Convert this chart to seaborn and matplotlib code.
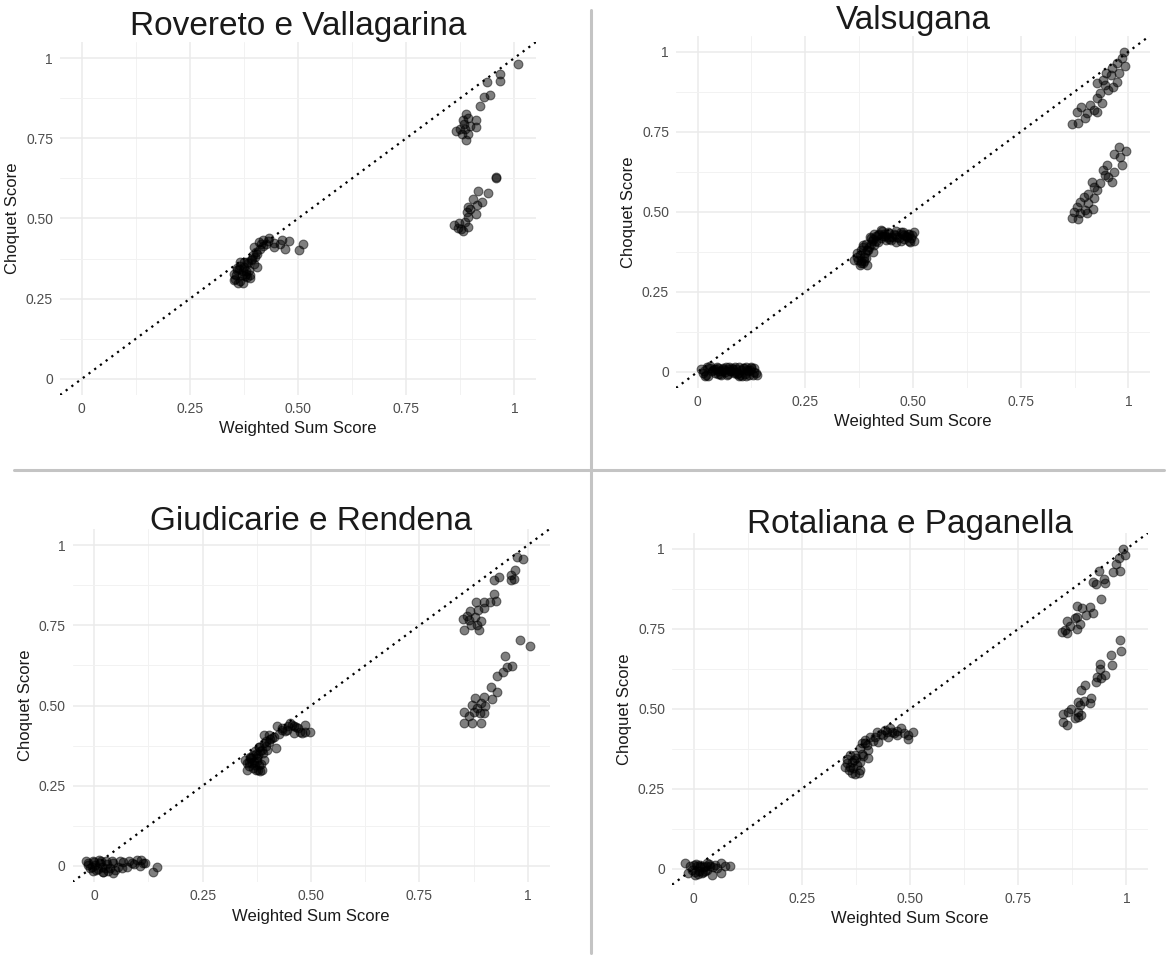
import pandas as pd
import seaborn as sns
import matplotlib.pyplot as plt
from matplotlib.lines import Line2D
from matplotlib.ticker import MultipleLocator

sns.set_theme(style='white')
plt.rcParams['font.family'] = ['Liberation Sans', 'DejaVu Sans']

titles = ['Rovereto e Vallagarina', 'Valsugana', 'Giudicarie e Rendena', 'Rotaliana e Paganella']
tick_vals = [0, 0.25, 0.5, 0.75, 1]
tick_labels = ['0', '0.25', '0.50', '0.75', '1']

# Rovereto e Vallagarina
rov_x = [1.008, 0.967, 0.967, 0.937, 0.943, 0.929, 0.921,
         0.888, 0.894, 0.881, 0.911, 0.898, 0.911, 0.875, 0.865, 0.887, 0.879, 0.894, 0.888, 0.883,
         0.957, 0.957, 0.917, 0.939, 0.905, 0.925, 0.894, 0.913, 0.890, 0.911,
         0.892, 0.887, 0.860, 0.871, 0.876, 0.882, 0.894, 0.870, 0.898,
         0.512, 0.502, 0.479, 0.463, 0.470, 0.458, 0.444, 0.433, 0.420, 0.425,
         0.410, 0.413, 0.398, 0.406, 0.394, 0.383, 0.367, 0.398, 0.406, 0.375,
         0.360, 0.387, 0.352, 0.371, 0.390, 0.352, 0.367, 0.379, 0.363, 0.383,
         0.355, 0.372, 0.392, 0.402, 0.415, 0.430, 0.445, 0.360, 0.378, 0.395,
         0.357, 0.365, 0.372, 0.380, 0.385, 0.362, 0.375, 0.388, 0.400, 0.418]
rov_y = [0.982, 0.951, 0.928, 0.925, 0.886, 0.879, 0.850,
         0.827, 0.813, 0.806, 0.806, 0.787, 0.785, 0.780, 0.773, 0.780, 0.764, 0.762, 0.744, 0.795,
         0.627, 0.630, 0.586, 0.579, 0.561, 0.551, 0.536, 0.541, 0.520, 0.515,
         0.505, 0.489, 0.479, 0.486, 0.468, 0.461, 0.474, 0.471, 0.531,
         0.421, 0.401, 0.430, 0.434, 0.406, 0.422, 0.411, 0.439, 0.434, 0.422,
         0.427, 0.406, 0.411, 0.390, 0.375, 0.364, 0.364, 0.359, 0.349, 0.349,
         0.339, 0.339, 0.328, 0.323, 0.313, 0.307, 0.305, 0.328, 0.344, 0.318,
         0.310, 0.335, 0.370, 0.395, 0.420, 0.430, 0.425, 0.345, 0.320, 0.385,
         0.325, 0.352, 0.300, 0.335, 0.360, 0.300, 0.365, 0.325, 0.380, 0.415]

# Valsugana
val_x = [0.990, 0.985, 0.973, 0.992, 0.961, 0.948, 0.977, 0.959, 0.942, 0.927,
         0.973, 0.953, 0.934, 0.927, 0.938, 0.911, 0.919, 0.890, 0.904, 0.880,
         0.900, 0.884, 0.870, 0.927, 0.946, 0.965,
         0.977, 0.995, 0.981, 0.966, 0.985, 0.950, 0.966, 0.946, 0.962, 0.934,
         0.915, 0.926, 0.907, 0.896, 0.920, 0.887, 0.907, 0.880, 0.899, 0.918,
         0.873, 0.887, 0.869, 0.884, 0.903, 0.953, 0.942, 0.919,
         0.502, 0.502, 0.487, 0.471, 0.456, 0.441, 0.425, 0.410, 0.402, 0.471,
         0.448, 0.425, 0.390, 0.379, 0.394, 0.371, 0.386, 0.363, 0.379, 0.394,
         0.410, 0.406, 0.441, 0.464, 0.491, 0.418, 0.433, 0.479, 0.495,
         0.370, 0.385, 0.400, 0.415, 0.430, 0.445, 0.460, 0.475, 0.490, 0.380,
         0.372, 0.378, 0.383, 0.388, 0.392, 0.397, 0.403, 0.408, 0.413, 0.420,
         0.428, 0.436, 0.444, 0.452, 0.460, 0.468, 0.476, 0.484, 0.492, 0.498,
         0.376, 0.386, 0.396, 0.405, 0.418, 0.438, 0.458, 0.478, 0.488, 0.385,
         0.008, 0.015, 0.020, 0.028, 0.035, 0.040, 0.045, 0.050, 0.055, 0.060,
         0.065, 0.070, 0.075, 0.080, 0.085, 0.090, 0.095, 0.100, 0.105, 0.110,
         0.115, 0.120, 0.125, 0.130, 0.135, 0.012, 0.025, 0.038, 0.048, 0.058,
         0.068, 0.078, 0.088, 0.098, 0.108, 0.118, 0.128, 0.030, 0.062, 0.092,
         0.124,
         0.018, 0.033, 0.043, 0.053, 0.063, 0.073, 0.083, 0.093, 0.103, 0.113,
         0.122, 0.132, 0.022, 0.047, 0.072, 0.097, 0.112, 0.057, 0.087, 0.138]
val_y = [1.000, 0.979, 0.964, 0.955, 0.948, 0.934, 0.932, 0.927, 0.911, 0.901,
         0.906, 0.880, 0.870, 0.854, 0.839, 0.833, 0.818, 0.826, 0.807, 0.813,
         0.792, 0.776, 0.774, 0.813, 0.896, 0.891,
         0.701, 0.691, 0.672, 0.682, 0.646, 0.646, 0.625, 0.615, 0.594, 0.589,
         0.594, 0.568, 0.557, 0.547, 0.542, 0.531, 0.526, 0.516, 0.505, 0.510,
         0.500, 0.495, 0.482, 0.479, 0.497, 0.610, 0.630, 0.578,
         0.438, 0.409, 0.422, 0.438, 0.432, 0.438, 0.443, 0.432, 0.417, 0.409,
         0.411, 0.417, 0.401, 0.380, 0.380, 0.370, 0.359, 0.349, 0.339, 0.333,
         0.396, 0.375, 0.422, 0.422, 0.432, 0.427, 0.432, 0.427, 0.417,
         0.360, 0.390, 0.420, 0.410, 0.425, 0.415, 0.405, 0.430, 0.410, 0.345,
         0.350, 0.365, 0.340, 0.372, 0.355, 0.390, 0.400, 0.415, 0.425, 0.430,
         0.440, 0.425, 0.435, 0.420, 0.440, 0.418, 0.438, 0.425, 0.405, 0.428,
         0.333, 0.345, 0.382, 0.410, 0.405, 0.412, 0.428, 0.415, 0.432, 0.395,
         0.010, 0.003, -0.008, 0.012, 0.006, -0.004, 0.015, 0.002, -0.010, 0.008,
         0.014, -0.006, 0.004, 0.011, -0.003, 0.009, -0.012, 0.005, 0.013, -0.005,
         0.007, -0.009, 0.016, 0.001, -0.004, -0.002, -0.012, 0.009, -0.007, 0.013,
         -0.011, 0.002, 0.015, -0.008, 0.011, 0.003, -0.010, 0.018, 0.007, -0.006,
         0.012,
         -0.012, 0.004, 0.010, -0.006, 0.001, 0.016, 0.008, -0.002, -0.013, 0.014,
         0.005, 0.012, 0.016, 0.013, 0.010, 0.015, -0.012, 0.004, 0.001, -0.008]

# Giudicarie e Rendena
giu_x = [0.975, 0.989, 0.970, 0.962, 0.968, 0.960, 0.933, 0.923, 0.921, 0.926,
         0.913, 0.898, 0.881, 0.898, 0.886, 0.867, 0.879, 0.860, 0.851, 0.891,
         0.869, 0.883, 0.852, 0.887, 0.864,
         0.983, 1.005, 0.947, 0.964, 0.952, 0.943, 0.929, 0.915, 0.928, 0.898,
         0.917, 0.879, 0.891, 0.872, 0.902, 0.852, 0.875, 0.889, 0.864, 0.898,
         0.852, 0.872, 0.892, 0.883,
         0.487, 0.498, 0.485, 0.475, 0.460, 0.448, 0.433, 0.421, 0.414, 0.402,
         0.391, 0.391, 0.379, 0.371, 0.383, 0.360, 0.375, 0.348, 0.363, 0.381,
         0.352, 0.383, 0.367, 0.398, 0.419, 0.460, 0.452, 0.352, 0.391,
         0.356, 0.368, 0.378, 0.388, 0.395, 0.405, 0.440, 0.470, 0.360, 0.372,
         0.362, 0.370, 0.377, 0.385, 0.390, 0.380, 0.372, 0.365, 0.395, 0.402,
         0.410, 0.425, 0.432, 0.445, 0.455, 0.465, 0.478, 0.357, 0.386, 0.376,
         -0.018, -0.002, 0.013, 0.028, -0.010, 0.005, 0.021, 0.036, 0.044, 0.055,
         0.067, 0.075, 0.086, 0.098, 0.109, 0.117, 0.105, 0.136, 0.144, -0.014,
         0.002, 0.018, 0.032, 0.048, 0.063, 0.044,
         -0.015, -0.006, 0.008, 0.016, 0.024, 0.010, -0.002, 0.030, 0.040, 0.060,
         0.080, 0.092, 0.112, 0.000, 0.020]
giu_y = [0.963, 0.957, 0.921, 0.907, 0.894, 0.890, 0.902, 0.890, 0.847, 0.827,
         0.824, 0.824, 0.824, 0.804, 0.798, 0.793, 0.775, 0.778, 0.769, 0.762,
         0.752, 0.752, 0.734, 0.736, 0.767,
         0.705, 0.684, 0.653, 0.622, 0.620, 0.606, 0.593, 0.557, 0.542, 0.528,
         0.520, 0.523, 0.507, 0.502, 0.497, 0.481, 0.481, 0.476, 0.466, 0.476,
         0.445, 0.447, 0.447, 0.492,
         0.440, 0.416, 0.416, 0.419, 0.435, 0.435, 0.424, 0.435, 0.401, 0.409,
         0.409, 0.383, 0.372, 0.357, 0.357, 0.341, 0.336, 0.331, 0.320, 0.315,
         0.299, 0.297, 0.305, 0.362, 0.367, 0.414, 0.445, 0.320, 0.331,
         0.310, 0.325, 0.345, 0.360, 0.390, 0.395, 0.420, 0.430, 0.335, 0.300,
         0.335, 0.315, 0.300, 0.318, 0.352, 0.370, 0.350, 0.345, 0.375, 0.385,
         0.398, 0.410, 0.430, 0.425, 0.440, 0.432, 0.415, 0.325, 0.300, 0.328,
         0.016, 0.016, 0.009, 0.014, -0.007, -0.012, -0.018, -0.007, 0.009, -0.002,
         0.012, -0.002, 0.009, 0.019, 0.019, 0.010, 0.000, -0.018, -0.002, 0.004,
         0.004, -0.002, -0.015, -0.012, -0.007, -0.021,
         0.008, -0.004, -0.010, 0.015, -0.005, 0.018, -0.015, 0.006, 0.016, 0.014,
         0.016, 0.006, 0.008, 0.012, -0.020]

# Rotaliana e Paganella
rot_x = [0.992, 0.996, 0.983, 0.977, 0.985, 0.968, 0.936, 0.948, 0.950, 0.923,
         0.929, 0.942, 0.886, 0.898, 0.917, 0.906, 0.923, 0.886, 0.881, 0.862,
         0.869, 0.892, 0.885, 0.852, 0.862, 0.858,
         0.986, 0.987, 0.965, 0.967, 0.938, 0.938, 0.931, 0.942, 0.951, 0.929,
         0.904, 0.896, 0.919, 0.917, 0.902, 0.892, 0.888, 0.873, 0.865, 0.888,
         0.854, 0.888, 0.881, 0.854, 0.863, 0.894,
         0.508, 0.496, 0.496, 0.478, 0.469, 0.454, 0.446, 0.438, 0.423, 0.419,
         0.408, 0.396, 0.400, 0.388, 0.385, 0.404, 0.373, 0.362, 0.392, 0.354,
         0.365, 0.385, 0.350, 0.369, 0.385, 0.373, 0.358, 0.404, 0.427, 0.450,
         0.458,
         0.355, 0.362, 0.370, 0.378, 0.382, 0.390, 0.366, 0.376, 0.415, 0.432,
         0.442, 0.462, 0.470, 0.485, 0.395,
         -0.019, -0.008, 0.000, 0.008, 0.015, 0.023, 0.031, 0.038, 0.050, 0.062,
         0.073, 0.083, -0.012, 0.004, 0.019, 0.027, 0.042, 0.062, -0.004, 0.012,
         0.031, 0.054,
         0.005, 0.015, 0.022, 0.035, 0.045, 0.010, 0.028, 0.002]
rot_y = [0.999, 0.980, 0.972, 0.954, 0.930, 0.928, 0.931, 0.905, 0.892, 0.897,
         0.890, 0.845, 0.821, 0.816, 0.819, 0.794, 0.800, 0.788, 0.783, 0.774,
         0.760, 0.764, 0.749, 0.741, 0.736, 0.746,
         0.715, 0.682, 0.668, 0.637, 0.639, 0.626, 0.600, 0.597, 0.606, 0.585,
         0.574, 0.559, 0.535, 0.517, 0.524, 0.512, 0.522, 0.498, 0.491, 0.491,
         0.484, 0.476, 0.472, 0.460, 0.450, 0.482,
         0.429, 0.418, 0.406, 0.439, 0.418, 0.439, 0.429, 0.418, 0.429, 0.413,
         0.413, 0.403, 0.387, 0.392, 0.377, 0.371, 0.356, 0.356, 0.351, 0.343,
         0.335, 0.335, 0.319, 0.314, 0.309, 0.296, 0.309, 0.346, 0.397, 0.413,
         0.429,
         0.330, 0.318, 0.340, 0.325, 0.300, 0.360, 0.300, 0.345, 0.400, 0.420,
         0.435, 0.425, 0.432, 0.425, 0.392,
         0.018, 0.009, 0.012, 0.007, 0.012, 0.004, 0.018, 0.007, 0.012, 0.018,
         0.007, 0.010, -0.014, -0.010, -0.014, -0.008, -0.021, -0.014, -0.003, -0.007,
         -0.003, 0.002,
         0.015, 0.005, -0.010, 0.015, 0.005, -0.018, 0.010, -0.020]

panels = [(rov_x, rov_y), (val_x, val_y), (giu_x, giu_y), (rot_x, rot_y)]

fig = plt.figure(figsize=(11.7, 9.61), dpi=100)
rects = [(0.0513, 0.589, 0.4068, 0.3673),
         (0.5778, 0.5963, 0.4051, 0.3666),
         (0.0620, 0.0822, 0.4077, 0.3673),
         (0.5744, 0.0794, 0.4068, 0.3660)]
title_pads = [5, 5, -1, 0]

for i, (px, py) in enumerate(panels):
    ax = fig.add_axes(rects[i])
    df = pd.DataFrame({'ws': px, 'cq': py})
    ax.plot([-0.05, 1.05], [-0.05, 1.05], linestyle=(0, (1, 2.2)), color='black', lw=1.6, zorder=2)
    sns.scatterplot(data=df, x='ws', y='cq', ax=ax, color='black', alpha=0.5,
                    s=40, edgecolor='black', linewidth=0.8, zorder=3)
    ax.set_xlim(-0.05, 1.05)
    ax.set_ylim(-0.05, 1.05)
    ax.set_xticks(tick_vals, tick_labels)
    ax.set_yticks(tick_vals, tick_labels)
    ax.xaxis.set_minor_locator(MultipleLocator(0.125))
    ax.yaxis.set_minor_locator(MultipleLocator(0.125))
    ax.grid(which='major', color='#ebebeb', lw=1.1)
    ax.grid(which='minor', color='#f2f2f2', lw=0.7)
    ax.set_axisbelow(True)
    for sp in ax.spines.values():
        sp.set_visible(False)
    ax.tick_params(which='both', length=0, labelsize=10, labelcolor='#4d4d4d', pad=5)
    ax.set_xlabel('Weighted Sum Score', fontsize=12, color='#1a1a1a', labelpad=4)
    ax.set_ylabel('Choquet Score', fontsize=12, color='#1a1a1a', labelpad=4)
    ax.set_title(titles[i], fontsize=24, color='#1a1a1a', pad=title_pads[i])

fig.add_artist(Line2D([0.505, 0.505], [0.008, 0.99], transform=fig.transFigure,
                      color='#c4c4c4', lw=2.2))
fig.add_artist(Line2D([0.012, 0.995], [0.511, 0.511], transform=fig.transFigure,
                      color='#c4c4c4', lw=2.2))

fig.savefig('out.png', dpi=100, facecolor='white')
